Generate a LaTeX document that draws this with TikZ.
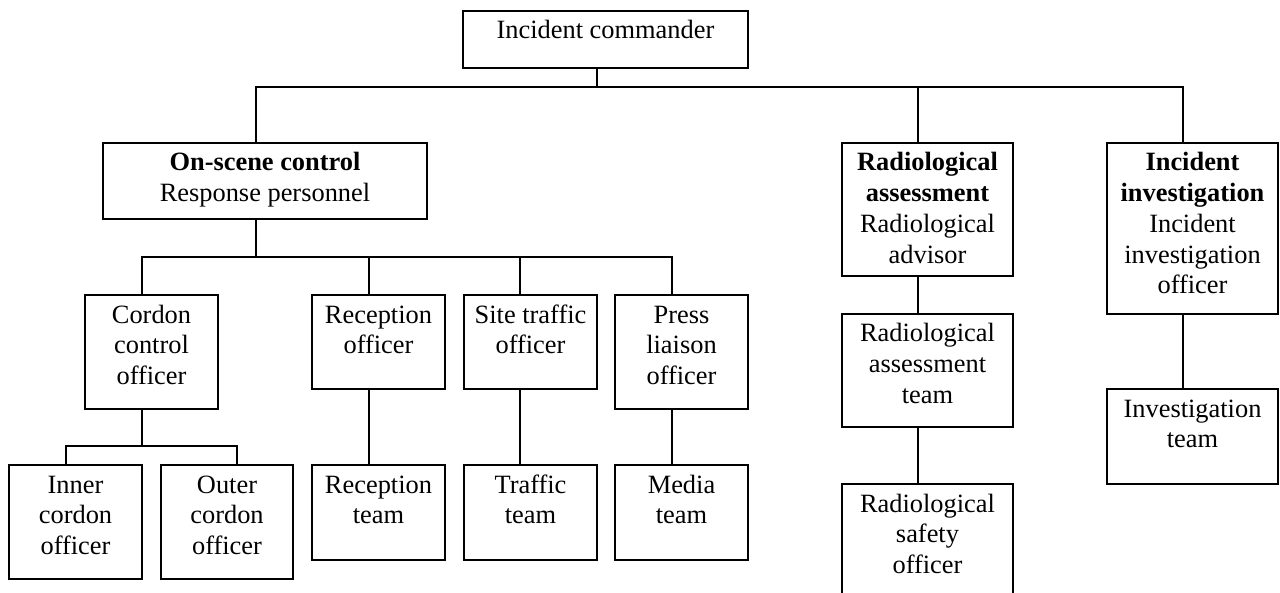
\documentclass[tikz,border=0pt]{standalone}
\usepackage{fontspec}
\setmainfont{Liberation Serif}
\newcommand\bx[3]{\parbox[c][#2][t]{#1}{\centering\rule{0pt}{14pt}#3}}
\tikzset{
  box/.style={draw, line width=0.6pt, inner sep=0pt, outer sep=0pt, anchor=north west,
    font=\fontsize{13.2}{15.35}\selectfont},
  conn/.style={line width=0.6pt}
}
\begin{document}
\begin{tikzpicture}[x=0.5pt,y=-0.5pt]
\useasboundingbox (0,0) rectangle (1280,593);
% boxes
\node[box] (cmd) at (463,11) {\bx{142.5pt}{28.5pt}{Incident commander}};
\node[box] (osc) at (103,143) {\bx{162pt}{38pt}{\textbf{On-scene control}\\Response personnel}};
\node[box] (rad) at (842,143) {\bx{85.5pt}{66.5pt}{\textbf{Radiological}\\\textbf{assessment}\\Radiological\\advisor}};
\node[box] (inv) at (1107,143) {\bx{85.5pt}{85.5pt}{\textbf{Incident}\\\textbf{investigation}\\Incident\\investigation\\officer}};
\node[box] (cco) at (85,295) {\bx{66.5pt}{57pt}{Cordon\\control\\officer}};
\node[box] (rco) at (312,295) {\bx{66.5pt}{47pt}{Reception\\officer}};
\node[box] (sto) at (464,295) {\bx{66.5pt}{47pt}{Site traffic\\officer}};
\node[box] (plo) at (615,295) {\bx{66.5pt}{57pt}{Press\\liaison\\officer}};
\node[box] (ico) at (9,465) {\bx{66.5pt}{57pt}{Inner\\cordon\\officer}};
\node[box] (oco) at (161,465) {\bx{66pt}{57pt}{Outer\\cordon\\officer}};
\node[box] (rte) at (312,465) {\bx{66.5pt}{47.5pt}{Reception\\team}};
\node[box] (tte) at (464,465) {\bx{66.5pt}{47.5pt}{Traffic\\team}};
\node[box] (mte) at (615,465) {\bx{66.5pt}{47.5pt}{Media\\team}};
\node[box] (rat) at (842,314) {\bx{85.5pt}{56.5pt}{Radiological\\assessment\\team}};
\node[box] (rso) at (842,484) {\bx{85.5pt}{68pt}{Radiological\\safety\\officer}};
\node[box] (ite) at (1107,389) {\bx{85.5pt}{47.5pt}{Investigation\\team}};
% junction coordinates
\coordinate (j0) at (597,87);
\coordinate (jL) at (256,87);
\coordinate (jR) at (918,87);
\coordinate (jI) at (1183,87);
\coordinate (k0) at (256,257);
\coordinate (k1) at (142,257);
\coordinate (k2) at (369,257);
\coordinate (k3) at (520,257);
\coordinate (k4) at (672,257);
\coordinate (m0) at (142,446);
\coordinate (m1) at (66,446);
\coordinate (m2) at (237,446);
% connectors
\draw[conn] (cmd.south -| j0) -- (j0);
\draw[conn] (osc.north -| jL) -- (jL) -- (jI) -- (inv.north -| jI);
\draw[conn] (jR) -- (rad.north -| jR);
\draw[conn] (osc.south -| k0) -- (k0);
\draw[conn] (cco.north -| k1) -- (k1) -- (k4) -- (plo.north -| k4);
\draw[conn] (k2) -- (rco.north -| k2);
\draw[conn] (k3) -- (sto.north -| k3);
\draw[conn] (cco.south -| m0) -- (m0);
\draw[conn] (ico.north -| m1) -- (m1) -- (m2) -- (oco.north -| m2);
\draw[conn] (rco.south -| k2) -- (rte.north -| k2);
\draw[conn] (sto.south -| k3) -- (tte.north -| k3);
\draw[conn] (plo.south -| k4) -- (mte.north -| k4);
\draw[conn] (rad.south -| jR) -- (rat.north -| jR);
\draw[conn] (rat.south -| jR) -- (rso.north -| jR);
\draw[conn] (inv.south -| jI) -- (ite.north -| jI);
\end{tikzpicture}
\end{document}
